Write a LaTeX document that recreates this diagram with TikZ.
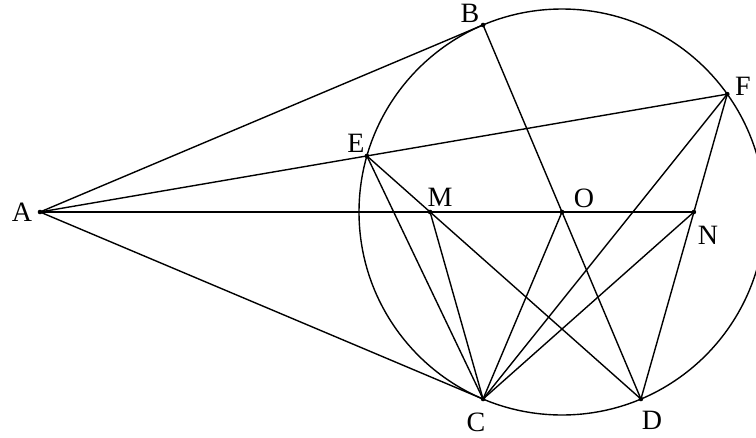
\documentclass[tikz,border=0pt]{standalone}
\usepackage{fontspec}
\setmainfont{Liberation Serif}
\begin{document}
\begin{tikzpicture}[x=1pt,y=-1pt,
  seg/.style={line width=1.4pt, line cap=round},
  ptdot/.style={fill=black},
  lbl/.style={inner sep=0pt, font=\fontsize{28}{30}\selectfont}]
\useasboundingbox (0,0) rectangle (756,437);
\clip (0,0) rectangle (756,437);
% points
\coordinate (A) at (40,212);
\coordinate (O) at (562,212);
\coordinate (B) at (483.06,24.98);
\coordinate (C) at (483.06,399.02);
\coordinate (D) at (640.94,399.02);
\coordinate (E) at (366.90,155.94);
\coordinate (F) at (727.28,94.13);
\coordinate (M) at (430.10,212);
\coordinate (N) at (693.90,212);
% circle
\draw[seg] (O) circle[radius=203pt];
% segments
\draw[seg] (A) -- (B);
\draw[seg] (A) -- (F);
\draw[seg] (A) -- (C);
\draw[seg] (A) -- (N);
\draw[seg] (B) -- (D);
\draw[seg] (E) -- (D);
\draw[seg] (E) -- (C);
\draw[seg] (M) -- (C);
\draw[seg] (O) -- (C);
\draw[seg] (N) -- (C);
\draw[seg] (F) -- (C);
\draw[seg] (F) -- (D);
% dots
\foreach \p in {A,B,C,D,E,F,M,N,O} \fill[ptdot] (\p) circle (2.3pt);
% labels
\node[lbl] (lA) at (22,212) {A};
\node[lbl] (lB) at (470,13) {B};
\node[lbl] (lE) at (356,143) {E};
\node[lbl] (lM) at (440,197) {M};
\node[lbl] (lO) at (584,198) {O};
\node[lbl] (lF) at (743,86) {F};
\node[lbl] (lN) at (708,235) {N};
\node[lbl] (lC) at (476,422) {C};
\node[lbl] (lD) at (652,420) {D};
\end{tikzpicture}
\end{document}
